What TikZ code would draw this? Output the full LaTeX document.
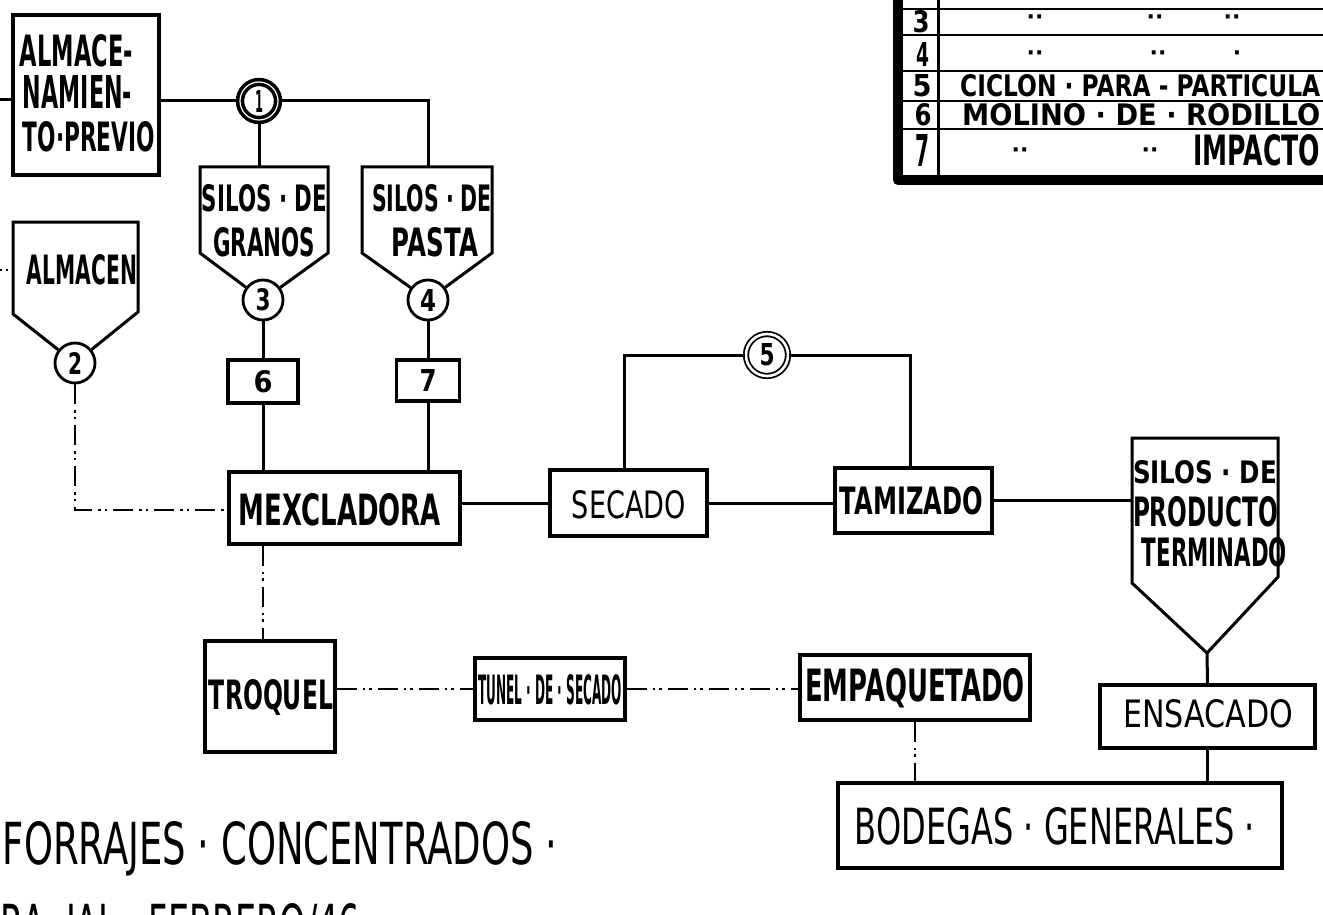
\documentclass[tikz,border=0pt]{standalone}
\usepackage{fontspec}
\usepackage{graphicx}
\newfontfamily\hand{DejaVu Sans}
\newcommand{\ft}[3]{\resizebox{#1pt}{#2pt}{\hand #3}}
\newcommand{\fb}[3]{\resizebox{#1pt}{#2pt}{\hand\bfseries #3}}
\tikzset{
  ln/.style={line width=3pt},
  box/.style={draw, line width=3.1pt, inner sep=0pt, rectangle},
  dd/.style={line width=2.6pt, dash pattern=on 20pt off 6pt on 2.5pt off 4pt on 2.5pt off 6pt},
  numc/.style={circle, draw, line width=2.8pt, inner sep=0pt, minimum size=40pt},
  lbl/.style={inner sep=0pt},
  ditto/.style={inner sep=0pt, font=\hand\bfseries\fontsize{22}{22}\selectfont},
}
\begin{document}
\begin{tikzpicture}[x=1pt,y=-1pt]
\useasboundingbox (0,0) rectangle (1323,915);
\clip (0,0) rectangle (1323,915);
\fill[white] (0,0) rectangle (1323,915);

% ---------- ALMACENAMIENTO PREVIO ----------
\node[box, minimum width=146pt, minimum height=160pt] (alm) at (86,95) {};
\node[lbl] (alm1) at (76.5,51) {\fb{113}{32}{ALMACE-}};
\node[lbl] (alm2) at (77.5,91.5) {\fb{109}{33}{NAMIEN-}};
\node[lbl] (alm3) at (89,137) {\fb{132}{30}{TO·PREVIO}};
\coordinate (lstub) at (0,100);
\draw[ln] (lstub) -- (lstub -| alm.west);

% circle 1
\node[circle, draw, line width=3.6pt, double, double distance=1.2pt, inner sep=0pt, minimum size=38pt] (c1) at (259,101) {\fb{8}{22}{1}};
\draw[ln] (alm.east |- c1.west) -- (c1.west);

% ---------- SILOS DE GRANOS ----------
\node[numc] (c3) at (263,300) {\fb{15}{22}{3}};
\coordinate (g1) at (200,253);
\coordinate (g2) at (200,167);
\coordinate (g3) at (328,167);
\coordinate (g4) at (328,253);
\draw[ln] (c3) -- (g1) -- (g2) -- (g3) -- (g4) -- (c3);
\node[lbl] (sg1) at (264.5,198.5) {\fb{125}{27}{SILOS · DE}};
\node[lbl] (sg2) at (264,242.5) {\fb{102}{29}{GRANOS}};
\draw[ln] (c1.south) -- (c1.south |- g2);

% ---------- SILOS DE PASTA ----------
\node[numc] (c4) at (428,300) {\fb{16}{22}{4}};
\coordinate (p1) at (362,253);
\coordinate (p2) at (362,167);
\coordinate (p3) at (492,167);
\coordinate (p4) at (492,253);
\coordinate (ptop) at (428,167);
\draw[ln] (c4) -- (p1) -- (p2) -- (p3) -- (p4) -- (c4);
\node[lbl] (sp1) at (432,198.5) {\fb{120}{27}{SILOS · DE}};
\node[lbl] (sp2) at (435,242.5) {\fb{86}{29}{PASTA}};
\draw[ln] (c1.east) -- (c1.east -| ptop) -- (ptop);

% ---------- ALMACEN ----------
\node[numc] (c2) at (75,363) {\fb{14}{22}{2}};
\coordinate (a1) at (13,314);
\coordinate (a2) at (13,222);
\coordinate (a3) at (138,222);
\coordinate (a4) at (138,312);
\draw[ln] (c2) -- (a1) -- (a2) -- (a3) -- (a4) -- (c2);
\node[lbl] (almc) at (82,270) {\fb{110}{30}{ALMACEN}};
\coordinate (astub) at (0,270);
\draw[line width=2pt, dash pattern=on 2pt off 4pt] (astub) -- (astub -| a2);

% ---------- boxes 6 and 7 ----------
\node[box, minimum width=70pt, minimum height=43pt] (b6) at (263,381.5) {\fb{19}{22}{6}};
\node[box, minimum width=63pt, minimum height=41pt] (b7) at (428,380.5) {\fb{17}{22}{7}};
\draw[ln] (c3.south) -- (b6.north);
\draw[ln] (c4.south) -- (b7.north);

% ---------- MEXCLADORA ----------
\node[box, minimum width=231pt, minimum height=72pt] (mex) at (344.5,508) {};
\node[lbl] (mext) at (340,510) {\fb{202}{32}{MEXCLADORA}};
\draw[ln] (b6.south) -- (b6.south |- mex.north);
\draw[ln] (b7.south) -- (b7.south |- mex.north);
\coordinate (k2) at (75,510);
\draw[dd] (c2.south) -- (k2) -- (k2 -| mex.west);

% ---------- SECADO / TAMIZADO / ciclon 5 ----------
\node[box, minimum width=157pt, minimum height=66pt] (sec) at (628.5,503) {};
\node[lbl] (sect) at (629,505) {\ft{114}{28}{SECADO}};
\node[box, minimum width=157pt, minimum height=65pt] (tam) at (913.5,500.5) {};
\node[lbl] (tamt) at (911.5,501) {\fb{143}{28}{TAMIZADO}};
\draw[ln] (mex.east |- sec.west) -- (sec.west);
\draw[ln] (sec.east) -- (sec.east -| tam.west);
\node[circle, draw, line width=1.8pt, double, double distance=2.6pt, inner sep=0pt, minimum size=42pt] (c5) at (767,355) {\fb{15}{22}{5}};
\coordinate (r5l) at (624,355);
\coordinate (r5r) at (910,355);
\draw[ln] (c5.west) -- (r5l) -- (r5l |- sec.north);
\draw[ln] (c5.east) -- (r5r) -- (r5r |- tam.north);

% ---------- SILOS DE PRODUCTO TERMINADO ----------
\coordinate (apex) at (1207,653);
\coordinate (t1) at (1132,583);
\coordinate (t2) at (1132,438);
\coordinate (t3) at (1278,438);
\coordinate (t4) at (1278,577);
\draw[ln] (apex) -- (t1) -- (t2) -- (t3) -- (t4) -- cycle;
\node[lbl] (st1) at (1205,472) {\fb{144}{23}{SILOS · DE}};
\node[lbl] (st2) at (1205.5,512) {\fb{145}{30}{PRODUCTO}};
\node[lbl] (st3) at (1214.5,552) {\fb{145}{29}{TERMINADO}};
\draw[ln] (tam.east) -- (tam.east -| t2);

% ---------- ENSACADO / BODEGAS ----------
\node[box, minimum width=215pt, minimum height=63pt] (ens) at (1207.5,716.5) {};
\node[lbl] (enst) at (1208,714) {\ft{170}{28}{ENSACADO}};
\draw[ln] (apex) -- (ens.north);
\node[box, minimum width=444pt, minimum height=85pt] (bod) at (1060,825.5) {};
\node[lbl] (bodt) at (1055,826) {\ft{400}{37}{BODEGAS · GENERALES ·}};
\draw[ln] (ens.south) -- (ens.south |- bod.north);

% ---------- TROQUEL / TUNEL / EMPAQUETADO ----------
\node[box, minimum width=130pt, minimum height=111pt] (trq) at (270,696.5) {};
\node[lbl] (trqt) at (271,697) {\fb{124}{30}{TROQUEL}};
\node[box, minimum width=150pt, minimum height=62pt] (tun) at (550,689) {};
\node[lbl] (tunt) at (550,690) {\fb{144}{30}{TUNEL · DE · SECADO}};
\node[box, minimum width=230pt, minimum height=65pt] (emp) at (915,687.5) {};
\node[lbl] (empt) at (915,688) {\fb{220}{33}{EMPAQUETADO}};
\draw[dd] (mex.south -| b6) -- (trq.north -| b6);
\draw[dd] (trq.east |- tun.west) -- (tun.west);
\draw[dd] (tun.east) -- (tun.east -| emp.west);
\draw[dd] (emp.south) -- (emp.south |- bod.north);

% ---------- title ----------
\node[lbl] (tit1) at (280,848.5) {\ft{554}{43}{FORRAJES · CONCENTRADOS ·}};
\node[lbl, anchor=north west] (tit2) at (0,903) {\ft{381}{43}{RA, JAL · FEBRERO/46 ·}};

% ---------- table ----------
\coordinate (tl) at (898,-5);
\coordinate (tb) at (898,180);
\coordinate (tr) at (1340,180);
\draw[line width=10pt, line join=round] (tl) -- (tb) -- (tr);
\draw[line width=3pt] (938,-5) -- (938,176);
\foreach \yy in {9,35,71,101,129} {\draw[line width=2.8pt] (900,\yy) -- (1340,\yy);}
\node[lbl] (n3) at (921,22) {\fb{17}{22}{3}};
\node[lbl] (n4) at (923,55) {\fb{13}{24}{4}};
\node[lbl] (n5) at (922,86) {\fb{19}{22}{5}};
\node[lbl] (n6) at (923,115) {\fb{17}{22}{6}};
\node[lbl] (n7) at (922,150) {\fb{14}{32}{7}};
\node[ditto] (d31) at (1035,20) {··};
\node[ditto] (d32) at (1155,20) {··};
\node[ditto] (d33) at (1232,20) {··};
\node[ditto] (d41) at (1035,56) {··};
\node[ditto] (d42) at (1158,56) {··};
\node[ditto] (d43) at (1237,56) {·};
\node[lbl, anchor=west] (r5) at (960,86) {\fb{360}{22}{CICLON · PARA - PARTICULA}};
\node[lbl, anchor=west] (r6) at (962,115) {\fb{358}{22}{MOLINO · DE · RODILLO}};
\node[ditto] (d71) at (1020,153) {··};
\node[ditto] (d72) at (1150,153) {··};
\node[lbl, anchor=west] (r7) at (1193,150) {\fb{127}{31}{IMPACTO}};
\end{tikzpicture}
\end{document}
